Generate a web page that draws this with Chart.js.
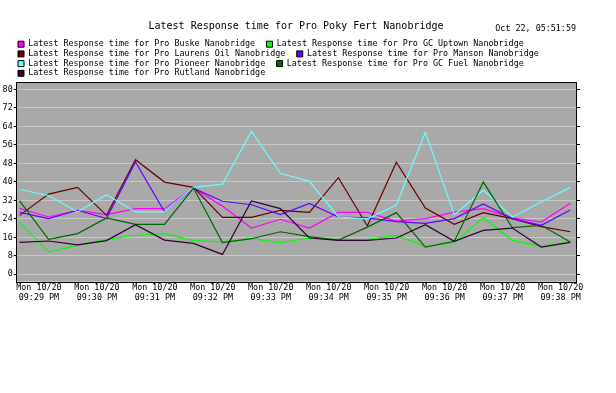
<!DOCTYPE html>
<html>
<head>
<meta charset="utf-8">
<script src="https://cdn.jsdelivr.net/npm/chart.js@4.4.1/dist/chart.umd.min.js"></script>
<style>
	html, body { margin: 0; padding: 0; background: #fff; }
</style>
</head>
<body>
<canvas id="cntx_response" width="616" height="393"></canvas>
<script>
// chart text
const chart_title = "Latest Response time for Pro Poky Fert Nanobridge";
const stamp_text = "Oct 22, 05:51:59";
const tick_day = "Mon 10/20";

// sample times (every 30s) and the minute ticks
const sample_times = [
	"21:28:40", "21:29:10", "21:29:40", "21:30:10", "21:30:40",
	"21:31:10", "21:31:40", "21:32:10", "21:32:40", "21:33:10",
	"21:33:40", "21:34:10", "21:34:40", "21:35:10", "21:35:40",
	"21:36:10", "21:36:40", "21:37:10", "21:37:40", "21:38:10",
];
const tick_times = [
	"21:29", "21:30", "21:31", "21:32", "21:33",
	"21:34", "21:35", "21:36", "21:37", "21:38",
];
const y_ticks = [0, 8, 16, 24, 32, 40, 48, 56, 64, 72, 80];

const series_names = [
	"Latest Response time for Pro Buske Nanobridge",
	"Latest Response time for Pro GC Uptown Nanobridge",
	"Latest Response time for Pro Laurens Oil Nanobridge",
	"Latest Response time for Pro Manson Nanobridge",
	"Latest Response time for Pro Pioneer Nanobridge",
	"Latest Response time for Pro GC Fuel Nanobridge",
	"Latest Response time for Pro Rutland Nanobridge",
];
const series_colors = ["#ff00ff", "#00ff00", "#660000", "#6600ff", "#66ffff", "#006600", "#330033"];

const buske     = [28.5, 24.8, 27.7, 25.8, 28.4, 28.4, 37.3, 29.5, 20.0, 23.8, 20.0, 26.8, 26.8, 23.0, 24.1, 26.9, 28.4, 24.4, 22.6, 30.7];
const gc_uptown = [22.6, 9.7, 12.5, 15.1, 16.9, 17.6, 14.6, 14.0, 15.4, 13.7, 15.7, 15.0, 15.0, 16.8, 12.0, 13.7, 24.6, 14.7, 12.1, 14.0];
const laurens   = [25.5, 34.7, 37.6, 25.5, 49.6, 39.9, 37.6, 24.6, 24.6, 27.7, 26.8, 41.8, 20.9, 48.5, 28.7, 21.6, 26.7, 24.1, 20.6, 18.4];
const manson    = [26.8, 24.1, 27.7, 24.1, 48.6, 27.0, 37.3, 31.6, 30.1, 25.8, 30.7, 24.8, 24.4, 22.8, 22.0, 24.1, 30.4, 24.1, 21.2, 27.8];
const pioneer   = [36.7, 34.1, 27.0, 34.4, 27.0, 27.0, 37.6, 39.0, 61.8, 43.7, 40.2, 24.8, 24.0, 30.0, 61.5, 25.8, 36.4, 24.8, 31.3, 37.6];
const gc_fuel   = [31.8, 15.1, 17.6, 24.4, 21.6, 21.6, 37.3, 13.7, 15.4, 18.4, 16.3, 14.8, 20.4, 26.7, 11.8, 14.3, 39.9, 20.2, 21.2, 14.0];
const rutland   = [13.8, 14.4, 12.7, 14.6, 21.5, 14.8, 13.4, 8.6, 31.7, 28.4, 15.7, 14.7, 14.7, 15.7, 21.5, 14.3, 19.0, 20.0, 11.8, 13.8];

const series_values = [buske, gc_uptown, laurens, manson, pioneer, gc_fuel, rutland];

toSec = (t) => {
	const p = t.split(":").map(Number);
	return p[0] * 3600 + p[1] * 60 + (p[2] || 0);
};
fmtTime = (sec) => {
	const h = Math.floor(sec / 3600);
	const m = Math.floor((sec % 3600) / 60);
	const h12 = h % 12 === 0 ? 12 : h % 12;
	return String(h12).padStart(2, "0") + ":" + String(m).padStart(2, "0") + (h >= 12 ? " PM" : " AM");
};

const mono = "'DejaVu Sans Mono', monospace";
const small_font = { family: mono, size: 8.4, lineHeight: 1.2 };

// gray plot background, black frame and the date stamp
const plotFrame = {
	id: "plotFrame",
	afterLayout(chart) {
		// legend rows start a bit in from the left edge
		chart.legend.left += 16.7;
		chart.legend.right += 16.7;
	},
	beforeDraw(chart) {
		const { ctx, chartArea: a } = chart;
		ctx.save();
		ctx.fillStyle = "#a9a9a9";
		ctx.fillRect(a.left, a.top, a.right - a.left, a.bottom - a.top);
		ctx.restore();
	},
	afterDraw(chart) {
		const { ctx, chartArea: a } = chart;
		ctx.save();
		ctx.strokeStyle = "#000";
		ctx.lineWidth = 1;
		ctx.strokeRect(Math.floor(a.left) + 0.5, Math.floor(a.top) + 0.5,
			Math.round(a.right - a.left), Math.round(a.bottom - a.top));
		ctx.fillStyle = "#000";
		ctx.font = "8.4px " + mono;
		ctx.textAlign = "right";
		ctx.textBaseline = "middle";
		ctx.fillText(stamp_text, 576, 29);
		ctx.restore();
	},
};

drawChart = (canvas) => {
	const datasets = series_names.map((name, i) => ({
		label: name,
		data: series_values[i].map((v, k) => ({ x: toSec(sample_times[k]), y: v })),
		borderColor: series_colors[i],
		backgroundColor: series_colors[i],
		borderWidth: 1.2,
		pointRadius: 0,
		tension: 0,
		order: series_names.length - i,
	}));

	const myChart = new Chart(canvas, {
		type: "line",
		data: { datasets: datasets },
		plugins: [plotFrame],
		options: {
			responsive: false,
			animation: false,
			devicePixelRatio: 1,
			layout: { padding: { left: 0, right: 24, top: 0, bottom: 0 } },
			plugins: {
				tooltip: { enabled: false },
				title: {
					display: true,
					text: chart_title,
					color: "#000",
					font: { family: mono, size: 10, weight: "normal", lineHeight: 1.2 },
					padding: { top: 20.8, bottom: 5.9 },
				},
				legend: {
					position: "top",
					align: "start",
					maxHeight: 43.3,
					labels: {
						font: small_font,
						color: "#000",
						boxWidth: 6,
						boxHeight: 6,
						padding: 1.3,
						sort: (a, b) => a.datasetIndex - b.datasetIndex,
						generateLabels: (chart) => {
							const items = Chart.defaults.plugins.legend.labels.generateLabels(chart);
							items.forEach((it) => {
								it.text = it.text + "  ";
								it.strokeStyle = "#000";
								it.lineWidth = 1;
							});
							return items;
						},
					},
				},
			},
			scales: {
				x: {
					type: "linear",
					min: toSec("21:28:37"),
					max: toSec("21:38:17"),
					afterBuildTicks: (s) => {
						s.ticks = tick_times.map((t) => ({ value: toSec(t) }));
					},
					afterFit: (s) => { s.height = 111.3; },
					grid: { drawOnChartArea: false, tickLength: 3, tickColor: "#000" },
					border: { display: false },
					ticks: {
						autoSkip: false,
						maxRotation: 0,
						minRotation: 0,
						padding: -2,
						color: "#000",
						font: small_font,
						callback: (v) => [tick_day, fmtTime(v)],
					},
				},
				y: {
					min: -3.2,
					max: 83.2,
					afterBuildTicks: (s) => {
						s.ticks = y_ticks.map((v) => ({ value: v }));
					},
					afterFit: (s) => { s.width = 16.7; },
					grid: { color: "#c8c8c8", tickColor: "#000", tickLength: 3 },
					border: { display: false },
					ticks: { color: "#000", font: small_font, padding: 1 },
				},
				y2: {
					position: "right",
					min: -3.2,
					max: 83.2,
					afterBuildTicks: (s) => {
						s.ticks = y_ticks.map((v) => ({ value: v }));
					},
					afterFit: (s) => { s.width = 15; },
					grid: { drawOnChartArea: false, tickColor: "#000", tickLength: 3 },
					border: { display: false },
					ticks: { display: false },
				},
			},
		},
	});
};

drawChart(document.querySelector("#cntx_response"));
</script>
</body>
</html>
